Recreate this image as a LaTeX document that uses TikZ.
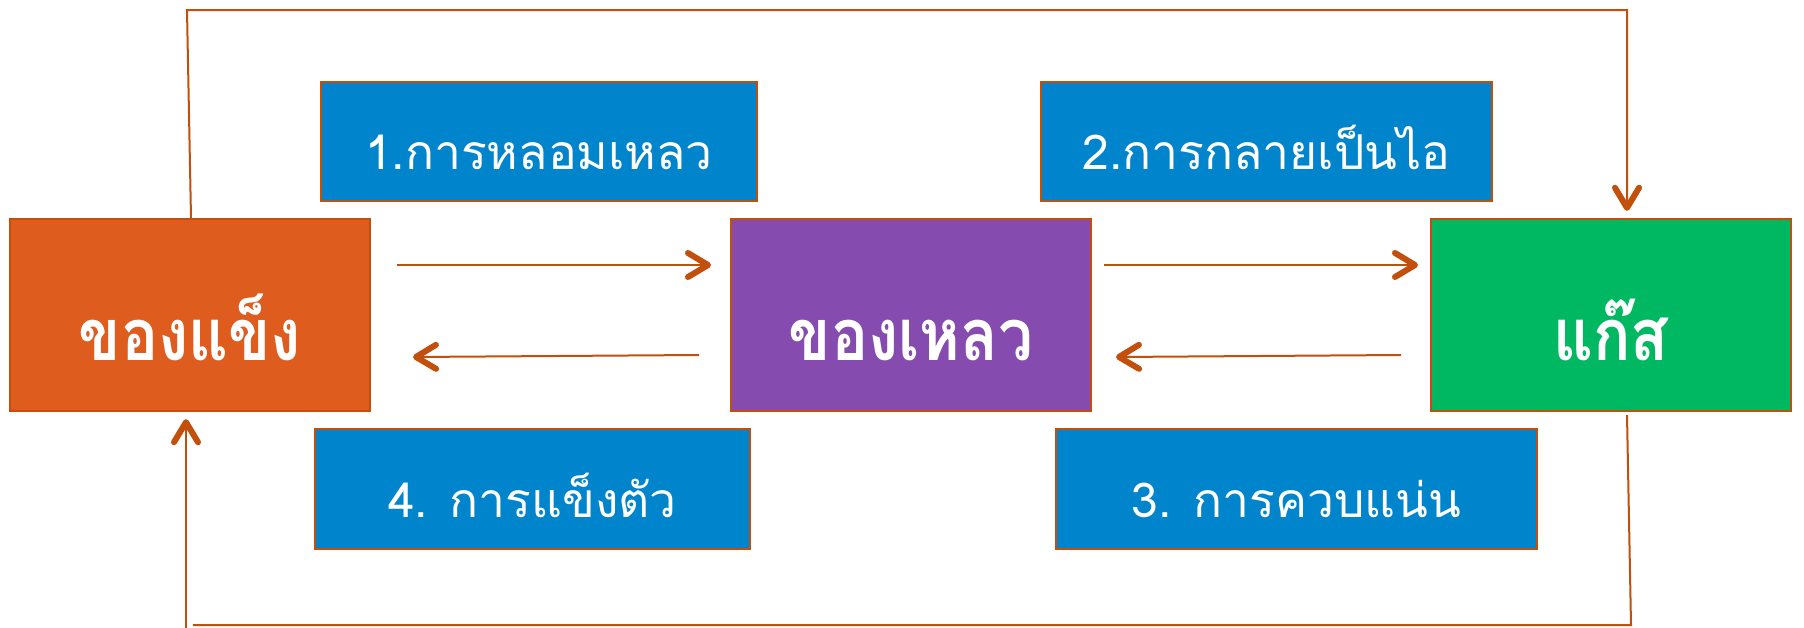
\documentclass[tikz,border=0pt]{standalone}
\usepackage{fontspec}
\newfontfamily\thai[Script=Thai]{Loma}
\newfontfamily\thaimain[Script=Thai,FakeStretch=0.86]{Loma}
\usetikzlibrary{arrows.meta,calc}
\definecolor{solidc}{HTML}{DD5C1E}
\definecolor{liquidc}{HTML}{854BAF}
\definecolor{gasc}{HTML}{00B862}
\definecolor{labelc}{HTML}{0084CC}
\definecolor{linec}{HTML}{C24F0C}
\tikzset{
  statebox/.style={draw=linec, line width=1.2pt, minimum width=180pt, minimum height=96pt, inner sep=0pt, text=white, text height=45pt, text depth=0pt, font=\thaimain\fontsize{36}{40}\selectfont\bfseries},
  procbox/.style={draw=linec, line width=1.2pt, fill=labelc, inner sep=0pt, text=white, text height=28pt, text depth=0pt, font=\thai\fontsize{24}{28}\selectfont},
  conn/.style={draw=linec, line width=1pt},
  arr/.style={conn, -{Straight Barb[length=10pt,width=12pt,line width=3pt 0 1,round]}},
}
\begin{document}
\begin{tikzpicture}[x=0.5pt,y=-0.5pt]
\useasboundingbox (0,0) rectangle (1804,627);
\node[statebox, fill=solidc] (solid) at (190,315) {ของแข็ง};
\node[statebox, fill=liquidc] (liquid) at (911,315) {ของเหลว};
\node[statebox, fill=gasc] (gas) at (1611,315) {แก๊ส};
\node[procbox, minimum width=218pt, minimum height=59.5pt] (melt) at (539,141.5) {1.การหลอมเหลว};
\node[procbox, minimum width=225.5pt, minimum height=59.5pt] (evap) at (1266.5,141.5) {2.การกลายเป็นไอ};
\node[procbox, minimum width=217.5pt, minimum height=60pt] (freeze) at (532.5,489) {4. การแข็งตัว};
\node[procbox, minimum width=240.5pt, minimum height=60pt] (cond) at (1296.5,489) {3. การควบแน่น};
% horizontal arrows
\coordinate (a1s) at (397,265); \coordinate (a1e) at (711,265);
\draw[arr] (a1s) -- (a1e);
\coordinate (a2s) at (699,355); \coordinate (a2e) at (413,357);
\draw[arr] (a2s) -- (a2e);
\coordinate (a3s) at (1104,265); \coordinate (a3e) at (1418,265);
\draw[arr] (a3s) -- (a3e);
\coordinate (a4s) at (1401,355); \coordinate (a4e) at (1116,357);
\draw[arr] (a4s) -- (a4e);
% top loop
\coordinate (t1) at (187,10); \coordinate (t2) at (1627,10);
\draw[arr] ($(solid.north)+(1,0)$) -- (t1) -- (t2) -- ($(gas.north)+(16,-7)$);
% bottom loop
\coordinate (b1) at (1631,625); \coordinate (b2) at (193,625); \coordinate (b3) at (186,628);
\draw[conn] ($(gas.south)+(16,3)$) -- (b1) -- (b2);
\draw[arr] (b3) -- ($(solid.south)+(-4,7)$);
\end{tikzpicture}
\end{document}
